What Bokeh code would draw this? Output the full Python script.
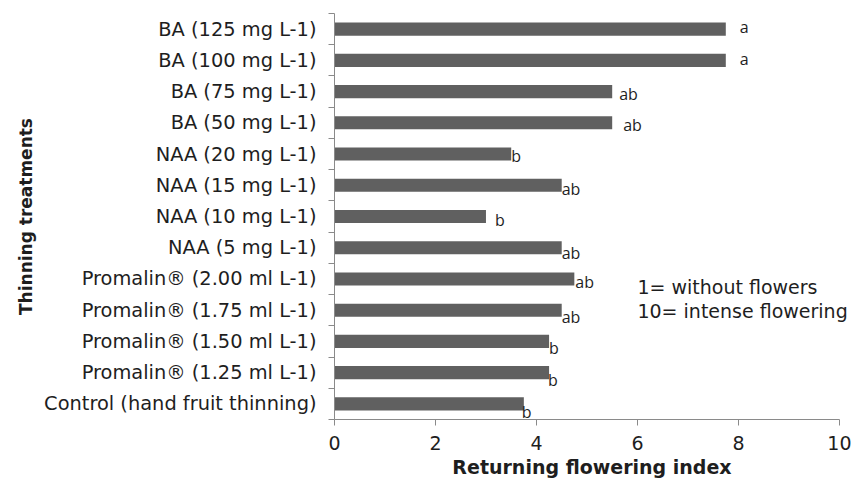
from bokeh.plotting import figure
from bokeh.models import FixedTicker, Range1d, Label, ColumnDataSource
from bokeh.core.properties import value
from bokeh.embed import file_html
from bokeh.resources import INLINE

# Categories, bottom to top
categories = [
    "Control (hand fruit thinning)",
    "Promalin® (1.25 ml L-1)",
    "Promalin® (1.50 ml L-1)",
    "Promalin® (1.75 ml L-1)",
    "Promalin® (2.00 ml L-1)",
    "NAA (5 mg L-1)",
    "NAA (10 mg L-1)",
    "NAA (15 mg L-1)",
    "NAA (20 mg L-1)",
    "BA (50 mg L-1)",
    "BA (75 mg L-1)",
    "BA (100 mg L-1)",
    "BA (125 mg L-1)",
]
values = [3.75, 4.25, 4.25, 4.5, 4.75, 4.5, 3.0, 4.5, 3.5, 5.5, 5.5, 7.75, 7.75]
letters = ["b", "b", "b", "ab", "ab", "ab", "b", "ab", "b", "ab", "ab", "a", "a"]
x_ticks = [0, 2, 4, 6, 8, 10]

# label offsets (px) for the significance letters
letter_dx = [-2, -1, 0, 0, 1, 0, 9, 0, 0, 11, 7, 14, 14]
letter_dy = [8, 7, 7, 7, 3, 5, 3, 4, 2, 2, 2, -1, -2]

ys = list(range(len(categories)))
src = ColumnDataSource(dict(y=ys, v=values, lab=letters, dx=letter_dx, dy=letter_dy))

FONT = "DejaVu Sans"
TXT = "#1e1e1e"
AX = "#8a8a8a"

p = figure(width=854, height=483,
           x_range=Range1d(0, 10.2), y_range=Range1d(-0.5, len(categories) - 0.5),
           output_backend="svg", toolbar_location=None,
           min_border_left=334, min_border_right=5, min_border_top=13, min_border_bottom=64)
p.outline_line_color = None
p.xgrid.visible = False
p.ygrid.visible = False
p.background_fill_color = "white"
p.border_fill_color = "white"

p.hbar(y="y", right="v", left=0, height=0.42, source=src,
       fill_color="#606060", line_color=None)

p.text(x="v", y="y", text="lab", x_offset="dx", y_offset="dy", source=src,
       text_font=value("Open Sans"), text_font_size="16px", text_color=TXT,
       text_align="left", text_baseline="middle")

# y axis
ya = p.yaxis[0]
ya.ticker = FixedTicker(ticks=ys, minor_ticks=[i - 0.5 for i in range(len(categories) + 1)])
ya.major_label_overrides = {i: c for i, c in zip(ys, categories)}
ya.major_tick_out = 0
ya.major_tick_in = 0
ya.minor_tick_out = 6
ya.minor_tick_in = 0
ya.minor_tick_line_color = AX
ya.axis_line_color = AX
ya.major_label_standoff = 12
ya.major_label_text_font = FONT
ya.major_label_text_font_size = "19.4px"
ya.major_label_text_color = TXT
ya.axis_label = "Thinning treatments"
ya.axis_label_text_font = FONT
ya.axis_label_text_font_size = "17px"
ya.axis_label_text_font_style = "bold"
ya.axis_label_text_color = TXT
ya.axis_label_standoff = 5

# x axis
xa = p.xaxis[0]
xa.bounds = (0, 10)
xa.ticker = FixedTicker(ticks=x_ticks)
xa.major_tick_out = 6
xa.major_tick_in = 0
xa.minor_tick_out = 0
xa.minor_tick_in = 0
xa.major_tick_line_color = AX
xa.axis_line_color = AX
xa.major_label_standoff = 10
xa.major_label_text_font = FONT
xa.major_label_text_font_size = "19px"
xa.major_label_text_color = TXT
xa.axis_label = "Returning flowering index"
xa.axis_label_text_font = FONT
xa.axis_label_text_font_size = "19px"
xa.axis_label_text_font_style = "bold"
xa.axis_label_text_color = TXT
xa.axis_label_standoff = 3

for txt, yy in [("1= without flowers", 3.73), ("10= intense flowering", 2.99)]:
    p.add_layout(Label(x=6.0, y=yy, text=txt, text_font=FONT, text_font_size="19px",
                       text_color=TXT, text_align="left", text_baseline="middle"))

open("out.html", "w").write(file_html(p, INLINE))
